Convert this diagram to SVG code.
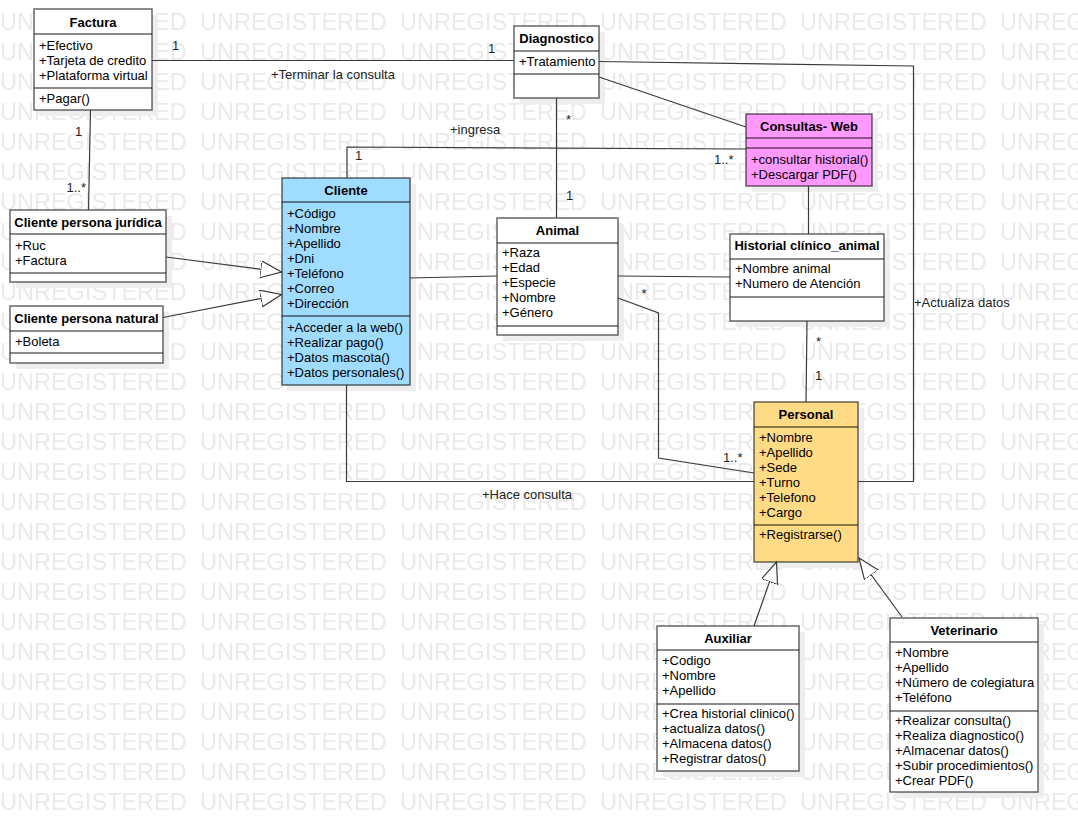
<svg xmlns="http://www.w3.org/2000/svg" width="1078" height="833" viewBox="0 0 1078 833">
<defs>
<style>
.wm{font-family:"Liberation Sans",Arial,sans-serif;font-size:23.5px;fill:#eaeaea}
.sh{fill:#eeeeee}
.box{stroke:#000;stroke-opacity:.6;stroke-width:1.5}
.dv{stroke:#000;stroke-opacity:.6;stroke-width:1.5;fill:none}
.t{font-family:"Liberation Sans",Arial,sans-serif;font-size:13px;fill:#000}
.h{font-weight:bold;text-anchor:middle}
.c{fill:none;stroke:#3a3a3a;stroke-width:1.2}
.l{font-family:"Liberation Sans",Arial,sans-serif;font-size:13px;fill:#222}
</style>
<pattern id="wmp" patternUnits="userSpaceOnUse" x="0" y="2" width="200" height="30">
<text class="wm" x="0" y="28">UNREGISTERED</text>
</pattern>
<marker id="gen" markerUnits="userSpaceOnUse" markerWidth="24" markerHeight="20" refX="21" refY="8.5" orient="auto">
<path d="M0,0 L21,8.5 L0,17 Z" fill="#fff" stroke="#3a3a3a" stroke-width="1.2"/>
</marker>
</defs>
<rect width="1078" height="833" fill="#fff"/>
<rect width="1078" height="820" fill="url(#wmp)"/>

<g id="factura">
<rect class="sh" x="40" y="15" width="118" height="101"/>
<rect class="box" x="34" y="9" width="118" height="101" fill="#fff"/>
<path class="dv" d="M34,34 H152 M34,88 H152"/>
<text class="t h" x="93" y="27">Factura</text>
<text class="t" x="39" y="50">+Efectivo</text>
<text class="t" x="39" y="65">+Tarjeta de credito</text>
<text class="t" x="39" y="80">+Plataforma virtual</text>
<text class="t" x="39" y="103">+Pagar()</text>
</g>

<g id="diagnostico">
<rect class="sh" x="520" y="32" width="85" height="72"/>
<rect class="box" x="514" y="26" width="85" height="72" fill="#fff"/>
<path class="dv" d="M514,51 H599 M514,74 H599"/>
<text class="t h" x="556.5" y="43">Diagnostico</text>
<text class="t" x="519" y="66">+Tratamiento</text>
</g>

<g id="consultas-web">
<rect class="sh" x="752" y="120" width="126" height="72"/>
<rect class="box" x="746" y="114" width="126" height="72" fill="#ff99ff"/>
<path class="dv" d="M746,138 H872 M746,148 H872"/>
<text class="t h" x="809" y="131">Consultas- Web</text>
<text class="t" x="751" y="164">+consultar historial()</text>
<text class="t" x="751" y="179">+Descargar PDF()</text>
</g>

<g id="cliente">
<rect class="sh" x="288" y="184" width="128" height="207"/>
<rect class="box" x="282" y="178" width="128" height="207" fill="#9fdcff"/>
<path class="dv" d="M282,202 H410 M282,316 H410"/>
<text class="t h" x="346" y="195">Cliente</text>
<text class="t" x="287" y="218">+Código</text>
<text class="t" x="287" y="233">+Nombre</text>
<text class="t" x="287" y="248">+Apellido</text>
<text class="t" x="287" y="263">+Dni</text>
<text class="t" x="287" y="278">+Teléfono</text>
<text class="t" x="287" y="293">+Correo</text>
<text class="t" x="287" y="308">+Dirección</text>
<text class="t" x="287" y="332">+Acceder a la web()</text>
<text class="t" x="287" y="347">+Realizar pago()</text>
<text class="t" x="287" y="362">+Datos mascota()</text>
<text class="t" x="287" y="377">+Datos personales()</text>
</g>

<g id="cliente-juridica">
<rect class="sh" x="16" y="216" width="156" height="72"/>
<rect class="box" x="10" y="210" width="156" height="72" fill="#fff"/>
<path class="dv" d="M10,234 H166 M10,273 H166"/>
<text class="t h" x="88" y="227">Cliente persona jurídica</text>
<text class="t" x="15" y="249.5">+Ruc</text>
<text class="t" x="15" y="264.5">+Factura</text>
</g>

<g id="cliente-natural">
<rect class="sh" x="16" y="312" width="153" height="57"/>
<rect class="box" x="10" y="306" width="153" height="57" fill="#fff"/>
<path class="dv" d="M10,331 H163 M10,353 H163"/>
<text class="t h" x="86.5" y="322.5">Cliente persona natural</text>
<text class="t" x="15" y="346">+Boleta</text>
</g>

<g id="animal">
<rect class="sh" x="503" y="224" width="121" height="117"/>
<rect class="box" x="497" y="218" width="121" height="117" fill="#fff"/>
<path class="dv" d="M497,243 H618 M497,326 H618"/>
<text class="t h" x="557.5" y="234.5">Animal</text>
<text class="t" x="502" y="257">+Raza</text>
<text class="t" x="502" y="272">+Edad</text>
<text class="t" x="502" y="287">+Especie</text>
<text class="t" x="502" y="302">+Nombre</text>
<text class="t" x="502" y="317">+Género</text>
</g>

<g id="historial">
<rect class="sh" x="736" y="240" width="154" height="87"/>
<rect class="box" x="730" y="234" width="154" height="87" fill="#fff"/>
<path class="dv" d="M730,259 H884 M730,297 H884"/>
<text class="t h" x="807" y="250">Historial clínico_animal</text>
<text class="t" x="735" y="273">+Nombre animal</text>
<text class="t" x="735" y="288">+Numero de Atención</text>
</g>

<g id="personal">
<rect class="sh" x="760" y="408" width="104" height="160"/>
<rect class="box" x="754" y="402" width="104" height="160" fill="#ffdb85"/>
<path class="dv" d="M754,427 H858 M754,525 H858"/>
<text class="t h" x="806" y="419">Personal</text>
<text class="t" x="759" y="442">+Nombre</text>
<text class="t" x="759" y="457">+Apellido</text>
<text class="t" x="759" y="472">+Sede</text>
<text class="t" x="759" y="487">+Turno</text>
<text class="t" x="759" y="502">+Telefono</text>
<text class="t" x="759" y="517">+Cargo</text>
<text class="t" x="759" y="539">+Registrarse()</text>
</g>

<g id="auxiliar">
<rect class="sh" x="663" y="632" width="142" height="145"/>
<rect class="box" x="657" y="626" width="142" height="145" fill="#fff"/>
<path class="dv" d="M657,650 H799 M657,704 H799"/>
<text class="t h" x="728" y="643">Auxiliar</text>
<text class="t" x="662" y="665">+Codigo</text>
<text class="t" x="662" y="680">+Nombre</text>
<text class="t" x="662" y="695">+Apellido</text>
<text class="t" x="662" y="718">+Crea historial clinico()</text>
<text class="t" x="662" y="733">+actualiza datos()</text>
<text class="t" x="662" y="748">+Almacena datos()</text>
<text class="t" x="662" y="763">+Registrar datos()</text>
</g>

<g id="veterinario">
<rect class="sh" x="896" y="624" width="148" height="174"/>
<rect class="box" x="890" y="618" width="148" height="174" fill="#fff"/>
<path class="dv" d="M890,642 H1038 M890,711 H1038"/>
<text class="t h" x="964" y="635">Veterinario</text>
<text class="t" x="895" y="657">+Nombre</text>
<text class="t" x="895" y="672">+Apellido</text>
<text class="t" x="895" y="687">+Número de colegiatura</text>
<text class="t" x="895" y="702">+Teléfono</text>
<text class="t" x="895" y="725">+Realizar consulta()</text>
<text class="t" x="895" y="740">+Realiza diagnostico()</text>
<text class="t" x="895" y="755">+Almacenar datos()</text>
<text class="t" x="895" y="770">+Subir procedimientos()</text>
<text class="t" x="895" y="785">+Crear PDF()</text>
</g>

<g id="connectors">
<path class="c" d="M152,60.5 H514"/>
<path class="c" d="M90.5,110 L88.5,210"/>
<path class="c" d="M166,257 L281.5,272" marker-end="url(#gen)"/>
<path class="c" d="M163,317.5 L281.5,294.5" marker-end="url(#gen)"/>
<path class="c" d="M410,278 L497,276"/>
<path class="c" d="M347,178 V147 L746,149"/>
<path class="c" d="M556.5,98 V218"/>
<path class="c" d="M599,77 L746,127"/>
<path class="c" d="M599,61.5 L913.5,66 V481.5 H858"/>
<path class="c" d="M346.5,385 V481.5 H754"/>
<path class="c" d="M618,298 L658.5,313 V458 L754,473"/>
<path class="c" d="M808.5,186 V234"/>
<path class="c" d="M807,321 L806,402"/>
<path class="c" d="M618,276 L730,277"/>
<path class="c" d="M754,626 L776.5,562" marker-end="url(#gen)"/>
<path class="c" d="M902,617 L859,558" marker-end="url(#gen)"/>
<text class="l" x="172" y="50">1</text>
<text class="l" x="271" y="79">+Terminar la consulta</text>
<text class="l" x="488" y="53">1</text>
<text class="l" x="75" y="136">1</text>
<text class="l" x="66.5" y="192">1..*</text>
<text class="l" x="355" y="160">1</text>
<text class="l" x="450" y="134">+ingresa</text>
<text class="l" x="714" y="164">1..*</text>
<text class="l" x="566" y="124">*</text>
<text class="l" x="566" y="200">1</text>
<text class="l" x="641.5" y="298">*</text>
<text class="l" x="723" y="461.5">1..*</text>
<text class="l" x="816" y="346">*</text>
<text class="l" x="815" y="380">1</text>
<text class="l" x="914" y="307">+Actualiza datos</text>
<text class="l" x="482" y="499">+Hace consulta</text>
</g>
</svg>
